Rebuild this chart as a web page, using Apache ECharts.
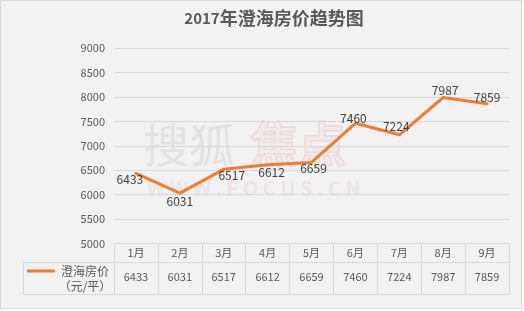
<!DOCTYPE html>
<html>
<head>
<meta charset="utf-8">
<script src="https://cdn.jsdelivr.net/npm/echarts@6/dist/echarts.min.js"></script>
<style>
html,body{margin:0;padding:0;background:#ffffff;}
#c{width:524px;height:311px;}
</style>
</head>
<body>
<div id="c"></div>
<script>
// ---- data ----
const titleYear = '2017';
const titleRest = '年澄海房价趋势图';
const months = ['1月','2月','3月','4月','5月','6月','7月','8月','9月'];
const prices = [6433, 6031, 6517, 6612, 6659, 7460, 7224, 7987, 7859];
const seriesName = '澄海房价';
const unitText = '（元/平）';
const yMin = 5000, yMax = 9000, yStep = 500;

// ---- label placement (style only) ----
const labelOffsets = [[-6,6],[0,8],[8,6],[4,8],[2,6],[-2,-5],[-3,-8],[2,-7],[0,-6]];

const FONT = '"Noto Sans CJK SC", "Noto Sans", sans-serif';
const GRID_LEFT = 114, GRID_RIGHT = 15, GRID_TOP = 48, GRID_BOTTOM = 67.5;
const LINE_C = '#d9d9d9';
const ORANGE = '#ed7d31';

const chart = echarts.init(document.getElementById('c'), null, {renderer:'canvas'});
const option = {
  backgroundColor: 'transparent',
  animation: false,
  title: {
    text: '{a|' + titleYear + '}{b|' + titleRest + '}',
    left: 269, top: 4, textAlign: 'center',
    textStyle: {
      rich: {
        a: {fontFamily: FONT, fontSize: 15, fontWeight: 'bold', color: '#595959'},
        b: {fontFamily: FONT, fontSize: 18, fontWeight: 'bold', color: '#595959'}
      }
    }
  },
  grid: {left: GRID_LEFT, right: GRID_RIGHT, top: GRID_TOP, bottom: GRID_BOTTOM, containLabel: false},
  xAxis: [
    {
      type: 'category', data: months, position: 'bottom', boundaryGap: true,
      axisLine: {show: true, lineStyle: {color: LINE_C, width: 1}},
      axisTick: {show: true, length: 19, lineStyle: {color: LINE_C}},
      axisLabel: {color: '#595959', fontSize: 11, fontFamily: FONT, margin: 4},
      splitLine: {show: false}
    },
    {
      type: 'category', data: months, position: 'bottom', offset: 19, boundaryGap: true,
      axisLine: {show: true, lineStyle: {color: LINE_C, width: 1}},
      axisTick: {show: true, length: 32, lineStyle: {color: LINE_C}},
      axisLabel: {color: '#595959', fontSize: 11, fontFamily: FONT, margin: 9,
        formatter: (v, i) => String(prices[i])},
      splitLine: {show: false}
    },
    {
      type: 'category', data: months, position: 'bottom', offset: 51, boundaryGap: true,
      axisLine: {show: true, lineStyle: {color: LINE_C, width: 1}},
      axisTick: {show: false}, axisLabel: {show: false}, splitLine: {show: false}
    }
  ],
  yAxis: {
    type: 'value', min: yMin, max: yMax, interval: yStep,
    axisLine: {show: false}, axisTick: {show: false},
    axisLabel: {color: '#595959', fontSize: 11, fontFamily: FONT, margin: 9,
      formatter: (v) => String(v)},
    splitLine: {show: true, lineStyle: {color: LINE_C, width: 1}}
  },
  series: [{
    name: seriesName, type: 'line', xAxisIndex: 0,
    data: prices.map((v, i) => ({
      value: v,
      label: {offset: labelOffsets[i]}
    })),
    symbol: 'circle', symbolSize: 1,
    itemStyle: {color: 'rgba(0,0,0,0)'},
    lineStyle: {color: ORANGE, width: 3, cap: 'round', join: 'round'},
    label: {show: true, position: 'inside', color: '#404040', fontSize: 12, fontFamily: FONT},
    z: 5
  }],
  graphic: [
    {type: 'rect', z: -10, silent: true, shape: {x: 0.5, y: 0.5, width: 521, height: 308},
     style: {fill: '#f2f2f2', stroke: LINE_C, lineWidth: 1}},
    // watermark
    {type: 'text', z: -5, silent: true, x: 143, y: 122,
     style: {text: '搜狐', font: '46px ' + FONT, fill: 'rgba(0,0,0,0.06)'}},
    {type: 'text', z: -5, silent: true, x: 250, y: 120,
     style: {text: '焦点', font: 'bold 48px ' + FONT, fill: 'rgba(210,60,60,0.03)',
       stroke: 'rgba(210,60,60,0.12)', lineWidth: 1.5}},
    {type: 'text', z: -5, silent: true, x: 147, y: 178,
     style: {text: 'W W W . F O C U S . C N', font: 'bold 20px ' + FONT, fill: 'rgba(210,60,60,0.08)'}},
    // data table legend cell
    {type: 'line', silent: true, shape: {x1: 23, y1: 262.5, x2: 114, y2: 262.5}, style: {stroke: LINE_C, lineWidth: 1}},
    {type: 'line', silent: true, shape: {x1: 23, y1: 294.5, x2: 114, y2: 294.5}, style: {stroke: LINE_C, lineWidth: 1}},
    {type: 'line', silent: true, shape: {x1: 23.5, y1: 262.5, x2: 23.5, y2: 294.5}, style: {stroke: LINE_C, lineWidth: 1}},
    {type: 'line', silent: true, shape: {x1: 27, y1: 271, x2: 55, y2: 271}, style: {stroke: ORANGE, lineWidth: 3}},
    {type: 'text', silent: true, x: 85, y: 271,
     style: {text: seriesName, font: '12px ' + FONT, fill: '#595959', align: 'center', verticalAlign: 'middle'}},
    {type: 'text', silent: true, x: 85, y: 286,
     style: {text: unitText, font: '12px ' + FONT, fill: '#595959', align: 'center', verticalAlign: 'middle'}}
  ]
};
chart.setOption(option);
</script>
</body>
</html>
